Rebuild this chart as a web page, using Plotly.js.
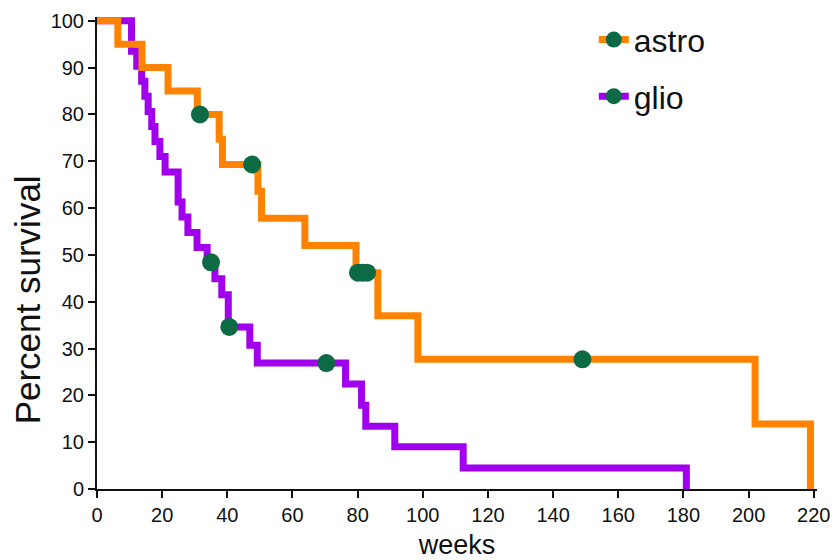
<!DOCTYPE html>
<html>
<head>
<meta charset="utf-8">
<script src="https://cdn.plot.ly/plotly-3.0.1.min.js"></script>
<style>
html,body{margin:0;padding:0;background:#fff;}
#chart{width:833px;height:560px;}
</style>
</head>
<body>
<div id="chart"></div>
<script>
// Kaplan-Meier step data (weeks, percent survival)
const astroWeeks    = [0, 6.4, 13.8, 21.8, 30.8, 37.5, 38.5, 49.4, 50.5, 63.8, 79.5, 86.2, 98.5, 202, 219];
const astroSurvival = [100, 95, 90, 85, 80, 74.7, 69.3, 63.6, 57.8, 52.0, 46.2, 37.0, 27.7, 13.9, 0];
const astroCensorWeeks    = [31.6, 47.6, 80.1, 81.5, 82.9, 149];
const astroCensorSurvival = [80, 69.3, 46.2, 46.2, 46.2, 27.7];

const glioWeeks    = [0, 10.6, 12.2, 13.7, 14.7, 15.7, 16.8, 17.8, 19.3, 20.9, 24.9, 26.1, 27.9, 30.7, 33.8, 36.2, 38.3, 40.3, 46.9, 49.2, 76.3, 81.2, 82.5, 91.4, 112.4, 180.9];
const glioSurvival = [100, 93.5, 90.3, 87.1, 83.9, 80.6, 77.4, 74.2, 71.0, 67.7, 61.3, 58.1, 54.8, 51.6, 48.4, 44.9, 41.5, 34.6, 30.7, 26.9, 22.4, 17.9, 13.4, 9.0, 4.5, 0];
const glioCensorWeeks    = [35.0, 40.6, 70.4];
const glioCensorSurvival = [48.4, 34.6, 26.9];

const seriesNames = ['astro', 'glio'];
const xTicks = [0, 20, 40, 60, 80, 100, 120, 140, 160, 180, 200, 220];
const yTicks = [0, 10, 20, 30, 40, 50, 60, 70, 80, 90, 100];
const xTitle = 'weeks';
const yTitle = 'Percent survival';

const ORANGE = '#ff8300';
const PURPLE = '#a000ee';
const GREEN  = '#0c6a45';
const LW = 7;
const MS = 18;
const FONT = 'Liberation Sans, Arial, sans-serif';

const traces = [
  {x: glioWeeks, y: glioSurvival, mode: 'lines', line: {shape: 'hv', color: PURPLE, width: LW}, showlegend: false, hoverinfo: 'skip'},
  {x: astroWeeks, y: astroSurvival, mode: 'lines', line: {shape: 'hv', color: ORANGE, width: LW}, showlegend: false, hoverinfo: 'skip'},
  {x: astroCensorWeeks, y: astroCensorSurvival, mode: 'markers', marker: {color: GREEN, size: MS}, showlegend: false, cliponaxis: false},
  {x: glioCensorWeeks, y: glioCensorSurvival, mode: 'markers', marker: {color: GREEN, size: MS}, showlegend: false, cliponaxis: false},
  // legend entries
  {x: [null], y: [null], name: seriesNames[0], mode: 'lines+markers', legendgroup: 'a', line: {color: ORANGE, width: LW}, marker: {color: GREEN, size: MS}},
  {x: [null], y: [null], name: seriesNames[1], mode: 'lines+markers', legendgroup: 'g', line: {color: PURPLE, width: LW}, marker: {color: GREEN, size: MS}}
];

const layout = {
  width: 833, height: 560,
  margin: {l: 97, r: 16, t: 14, b: 71, pad: 0},
  paper_bgcolor: '#fff', plot_bgcolor: '#fff',
  font: {family: FONT, color: '#111'},
  showlegend: true,
  legend: {x: 0.69, y: 1.01, xanchor: 'left', yanchor: 'top', font: {size: 32, family: FONT, color: '#111'},
           tracegroupgap: 12, bgcolor: 'rgba(0,0,0,0)'},
  xaxis: {
    range: [0, 221], tickvals: xTicks, ticktext: xTicks.map(String),
    showline: true, linecolor: '#111', linewidth: 2,
    ticks: 'outside', ticklen: 7, tickwidth: 2, tickcolor: '#111',
    showgrid: false, zeroline: false,
    tickfont: {size: 20, family: FONT, color: '#111'},
    title: {text: xTitle, font: {size: 27, family: FONT, color: '#111'}, standoff: 10}
  },
  yaxis: {
    range: [0, 100.8], tickvals: yTicks, ticktext: yTicks.map(String),
    showline: true, linecolor: '#111', linewidth: 2,
    ticks: 'outside', ticklen: 7, tickwidth: 2, tickcolor: '#111',
    showgrid: false, zeroline: false,
    tickfont: {size: 20, family: FONT, color: '#111'}
  },
  annotations: [{
    text: yTitle, textangle: -90, showarrow: false,
    xref: 'paper', yref: 'paper', x: -0.097, y: 0.40, xanchor: 'center', yanchor: 'middle',
    font: {size: 35, family: FONT, color: '#111'}
  }]
};

Plotly.newPlot('chart', traces, layout, {staticPlot: true, displayModeBar: false});
</script>
</body>
</html>
